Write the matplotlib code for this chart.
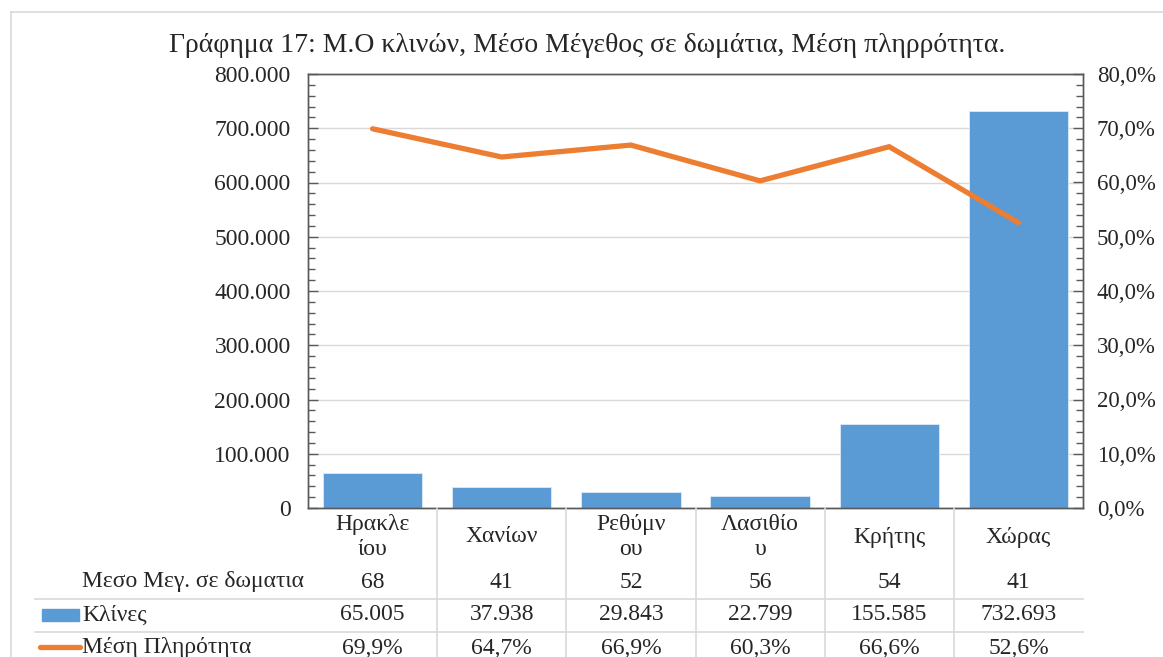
import matplotlib
matplotlib.use("Agg")
import matplotlib.pyplot as plt
from matplotlib.ticker import MultipleLocator, FuncFormatter
from matplotlib.transforms import blended_transform_factory
from matplotlib.patches import Rectangle
from matplotlib.lines import Line2D

# ---- data ----
categories = ["Ηρακλε\nίου", "Χανίων", "Ρεθύμν\nου", "Λασιθίο\nυ", "Κρήτης", "Χώρας"]
rooms = [68, 41, 52, 56, 54, 41]
beds = [65005, 37938, 29843, 22799, 155585, 732693]
occupancy = [69.9, 64.7, 66.9, 60.3, 66.6, 52.6]
row_labels = ["Μεσο Μεγ. σε δωματια", "Κλίνες", "Μέση Πληρότητα"]
title = "Γράφημα 17: Μ.Ο κλινών, Μέσο Μέγεθος σε δωμάτια, Μέση πληρρότητα."

BLUE = "#5B9BD5"
ORANGE = "#ED7D31"
GRID = "#D9D9D9"
SPINE = "#595959"
TXT = "#262626"

W, H = 1163, 657
plt.rcParams['font.family'] = ['Liberation Serif', 'DejaVu Serif']
FS = 17

fig = plt.figure(figsize=(W / 100, H / 100), dpi=100)
L, R, T, B = 308, 1083, 74, 508
ax = fig.add_axes([L / W, 1 - B / H, (R - L) / W, (B - T) / H])

def fy(ypix):
    return 1 - ypix / H

def fx(xpix):
    return xpix / W

# figure border
fig.add_artist(Line2D([fx(11), fx(11)], [fy(12), 0], transform=fig.transFigure, color=GRID, lw=1.2))
fig.add_artist(Line2D([fx(11), 1], [fy(12), fy(12)], transform=fig.transFigure, color=GRID, lw=1.2))

x = list(range(len(categories)))
ax.bar(x, beds, width=0.77, color=BLUE, edgecolor="#DDEBF7", linewidth=0.6, zorder=2)
ax.set_xlim(-0.5, len(categories) - 0.5)
ax.set_ylim(0, 800000)
ax.yaxis.set_major_locator(MultipleLocator(100000))
ax.yaxis.set_minor_locator(MultipleLocator(20000))
ax.yaxis.set_major_formatter(FuncFormatter(lambda v, p: f"{int(v):,}".replace(",", ".")))
ax.grid(axis='y', color=GRID, lw=1, zorder=0)
ax.set_axisbelow(True)
ax.set_xticks([])
ax.tick_params(axis='y', which='both', direction='in', colors=SPINE, labelcolor=TXT,
               labelsize=FS, pad=12.5)
ax.tick_params(axis='y', which='major', length=7, width=1)
ax.tick_params(axis='y', which='minor', length=5, width=1)
for s in ax.spines.values():
    s.set_color(SPINE)
    s.set_linewidth(1)

ax2 = ax.twinx()
ax2.set_ylim(0, 80)
ax2.plot(x, occupancy, color=ORANGE, lw=3.8, solid_capstyle='round', solid_joinstyle='round', zorder=3)
ax2.yaxis.set_major_locator(MultipleLocator(10))
ax2.yaxis.set_minor_locator(MultipleLocator(2))
ax2.yaxis.set_major_formatter(FuncFormatter(lambda v, p: f"{v:.1f}%".replace(".", ",")))
ax2.tick_params(axis='y', which='both', direction='in', colors=SPINE, labelcolor=TXT,
                labelsize=16.5, pad=10)
ax2.tick_params(axis='y', which='major', length=7, width=1)
ax2.tick_params(axis='y', which='minor', length=5, width=1)
for s in ax2.spines.values():
    s.set_color(SPINE)
    s.set_linewidth(1)

fig.text(fx(587), fy(45), title, ha='center', va='center', fontsize=20, color=TXT)

# ---- data table ----
tr = blended_transform_factory(ax.transData, fig.transFigure)
for i, c in enumerate(categories):
    ax.text(i, fy(537), c, transform=tr, ha='center', va='center', fontsize=FS,
            color=TXT, linespacing=1.25, clip_on=False)
    ax.text(i, fy(582), str(rooms[i]), transform=tr, ha='center', va='center',
            fontsize=FS, color=TXT, clip_on=False)
    ax.text(i, fy(615), f"{beds[i]:,}".replace(",", "."), transform=tr, ha='center',
            va='center', fontsize=FS, color=TXT, clip_on=False)
    ax.text(i, fy(648), f"{occupancy[i]:.1f}%".replace(".", ","), transform=tr,
            ha='center', va='center', fontsize=FS, color=TXT, clip_on=False)

# vertical separators
for i in range(1, len(categories)):
    fig.add_artist(Line2D([i - 0.5, i - 0.5], [fy(B), 0], transform=tr, color=GRID, lw=1.2))
# horizontal separators
for yp in (599, 632):
    fig.add_artist(Line2D([fx(35), fx(R)], [fy(yp), fy(yp)], transform=fig.transFigure,
                          color=GRID, lw=1.2))

# row labels and legend keys
row_y = [582, 615, 648]
for lab, yp in zip(row_labels, row_y):
    fig.text(fx(82), fy(yp), lab, ha='left', va='center', fontsize=FS, color=TXT)
fig.add_artist(Rectangle((fx(42), fy(621)), fx(79) - fx(42), fy(609) - fy(621),
                         transform=fig.transFigure, color=BLUE))
fig.add_artist(Line2D([fx(40), fx(80)], [fy(647), fy(647)], transform=fig.transFigure,
                      color=ORANGE, lw=3.8, solid_capstyle='round'))

fig.savefig("out.png", dpi=100)
